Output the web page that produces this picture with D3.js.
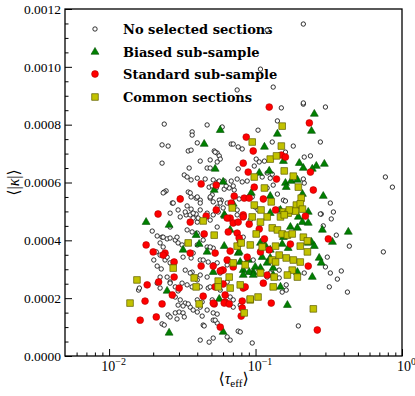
<!DOCTYPE html>
<html>
<head>
<meta charset="utf-8">
<script src="https://cdn.jsdelivr.net/npm/d3@7"></script>
<style>
  body { margin: 0; background: #fff; }
</style>
</head>
<body>
<script>
// [tau_eff, kappa] pairs
const noneData = [
  [0.0238,8.02e-4],[0.0467,7.99e-4],[0.0592,7.92e-4],[0.0369,7.75e-4],[0.0369,7.64e-4],[0.0230,7.30e-4],[0.0253,7.26e-4],[0.0400,7.37e-4],
  [0.0682,7.33e-4],[0.0704,7.33e-4],[0.0347,7.09e-4],[0.0363,7.12e-4],[0.0522,7.09e-4],[0.0547,7.02e-4],[0.0565,6.92e-4],[0.0230,6.67e-4],
  [0.0419,6.74e-4],[0.0490,6.78e-4],[0.0467,6.50e-4],[0.0490,6.50e-4],[0.0352,6.50e-4],[0.0574,6.81e-4],[0.0326,6.26e-4],[0.0341,6.19e-4],
  [0.0363,6.09e-4],[0.0400,6.15e-4],[0.0453,6.12e-4],[0.0514,6.09e-4],[0.0556,6.02e-4],[0.0682,6.05e-4],[0.0749,6.12e-4],[0.0245,5.71e-4],
  [0.0238,5.67e-4],[0.0347,5.67e-4],[0.0363,5.50e-4],[0.0393,5.46e-4],[0.0419,5.39e-4],[0.0482,5.84e-4],[0.0506,5.88e-4],[0.0539,5.81e-4],
  [0.0611,5.77e-4],[0.0661,5.81e-4],[0.0715,5.74e-4],[0.0270,5.29e-4],[0.0296,5.05e-4],[0.0341,5.19e-4],[0.0363,5.08e-4],[0.0393,4.91e-4],
  [0.0419,5.05e-4],[0.0490,5.46e-4],[0.0514,5.33e-4],[0.0547,5.15e-4],[0.0583,5.39e-4],[0.0640,5.29e-4],[0.0467,4.94e-4],[0.0514,4.88e-4],
  [0.0556,4.98e-4],[0.0261,4.94e-4],[0.0336,4.88e-4],
  [0.150,8.58e-4],[0.212,8.71e-4],[0.300,8.61e-4],[0.141,8.13e-4],[0.104,7.81e-4],[0.277,7.40e-4],[0.130,7.40e-4],[0.0761,7.23e-4],
  [0.0811,7.16e-4],[0.181,7.26e-4],[0.0530,7.05e-4],[0.0547,6.71e-4],[0.101,6.81e-4],[0.106,6.71e-4],[0.115,6.74e-4],[0.215,6.88e-4],
  [0.237,6.92e-4],[0.160,7.05e-4],[0.0761,6.47e-4],[0.120,6.33e-4],[0.130,6.29e-4],[0.0980,6.57e-4],[0.111,6.19e-4],[0.126,6.15e-4],
  [0.212,6.12e-4],[0.215,5.98e-4],[0.0565,6.05e-4],[0.0611,6.05e-4],[0.0630,5.88e-4],[0.0704,5.88e-4],[0.0811,6.02e-4],[0.0877,6.05e-4],
  [0.132,5.91e-4],[0.120,5.81e-4],[0.770,6.19e-4],[0.860,5.84e-4],[0.324,5.29e-4],[0.340,4.98e-4],[0.281,4.91e-4],[0.0506,5.57e-4],
  [0.0565,5.39e-4],[0.155,5.39e-4],[0.160,5.36e-4],[0.0773,5.43e-4],[0.0850,5.46e-4],[0.0949,5.50e-4],[0.141,5.60e-4],[0.0995,5.15e-4],
  [0.104,5.05e-4],[0.145,5.08e-4],[0.0749,4.88e-4],[0.0811,4.81e-4],
  [0.0197,4.32e-4],[0.0213,4.15e-4],[0.0230,4.11e-4],[0.0249,4.05e-4],[0.0261,4.08e-4],[0.0283,4.01e-4],[0.0296,3.91e-4],[0.0315,3.84e-4],
  [0.0223,3.91e-4],[0.0234,3.77e-4],[0.0210,3.60e-4],[0.0223,3.49e-4],[0.0241,3.32e-4],[0.0261,3.22e-4],[0.0202,3.32e-4],[0.0213,3.11e-4],
  [0.0227,3.01e-4],[0.0249,2.73e-4],[0.0261,2.56e-4],[0.0283,2.39e-4],[0.0296,2.25e-4],[0.0213,2.52e-4],[0.0223,2.35e-4],[0.0159,2.28e-4],
  [0.0161,2.35e-4],[0.0331,4.98e-4],[0.0358,4.88e-4],[0.0375,4.77e-4],[0.0400,4.63e-4],[0.0341,4.36e-4],[0.0369,4.29e-4],[0.0400,4.25e-4],
  [0.0439,4.18e-4],[0.0347,3.91e-4],[0.0400,3.84e-4],[0.0467,3.77e-4],[0.0514,3.73e-4],[0.0320,3.42e-4],[0.0363,3.39e-4],[0.0419,3.32e-4],
  [0.0475,3.25e-4],[0.0547,3.22e-4],[0.0640,3.15e-4],[0.0331,2.97e-4],[0.0369,2.90e-4],[0.0419,2.80e-4],[0.0467,2.73e-4],[0.0315,2.52e-4],
  [0.0341,2.46e-4],[0.0369,2.39e-4],[0.0419,2.39e-4],[0.0475,2.35e-4],[0.0574,2.28e-4],[0.0283,2.04e-4],[0.0306,1.94e-4],[0.0331,1.83e-4],
  [0.0358,1.69e-4],[0.0375,1.59e-4],[0.0253,1.42e-4],[0.0261,1.35e-4],[0.0439,1.07e-4],[0.0514,1.24e-4],[0.0547,1.14e-4],[0.0419,1.69e-4],
  [0.0467,1.59e-4],[0.0514,1.49e-4],[0.0640,1.83e-4],[0.0704,1.69e-4],[0.0400,1.94e-4],[0.0432,1.87e-4],[0.0506,1.94e-4],
  [0.0296,1.76e-4],[0.0320,1.73e-4],[0.0347,1.80e-4],[0.0283,1.49e-4],[0.0301,1.52e-4],[0.0320,1.49e-4],[0.0291,1.28e-4],[0.0326,1.35e-4],
  [0.0230,1.11e-4],[0.0238,1.07e-4],[0.0400,1.52e-4],[0.0432,1.38e-4],[0.0547,1.45e-4],[0.0530,1.24e-4],[0.0446,1.04e-4],[0.0419,0.55e-4],
  [0.0482,0.48e-4],[0.0514,0.62e-4],[0.0640,0.66e-4],[0.0671,0.55e-4],[0.0761,0.86e-4],[0.0949,0.45e-4],
  [0.196,1.04e-4],[0.0786,0.83e-4],[0.212,11.48e-4],[0.120,11.27e-4],[0.108,9.92e-4],[0.132,9.30e-4],[0.0749,9.20e-4],[0.212,8.75e-4],
  [0.277,4.91e-4],[0.329,4.74e-4],[0.290,4.50e-4],[0.356,4.18e-4],[0.437,3.80e-4],[0.746,3.60e-4],[0.309,3.42e-4],[0.300,3.08e-4],
  [0.324,2.87e-4],[0.385,2.94e-4],[0.362,2.66e-4],[0.319,2.39e-4],[0.424,2.21e-4],[0.145,2.97e-4],[0.145,2.70e-4],[0.162,2.28e-4],
  [0.152,2.21e-4],[0.215,2.87e-4],[0.0671,2.04e-4],[0.0704,1.94e-4],[0.0786,1.76e-4],[0.126,2.87e-4],[0.120,2.73e-4],[0.162,2.46e-4],
  [0.0234,5.64e-4],[0.0274,5.29e-4],[0.0306,5.46e-4],[0.0358,5.64e-4],[0.0400,5.50e-4],[0.0419,5.29e-4],[0.0490,5.50e-4],[0.0574,5.29e-4],
  [0.0601,5.12e-4],[0.0375,4.94e-4],[0.0406,4.77e-4],[0.0306,4.81e-4],[0.0261,4.46e-4],[0.0234,4.11e-4],[0.0291,4.11e-4],[0.0490,4.70e-4],
  [0.0547,4.46e-4],[0.0439,4.01e-4],[0.0490,3.77e-4],[0.0341,3.91e-4],[0.0375,3.56e-4],[0.0249,3.42e-4],[0.0274,3.22e-4],[0.0439,3.32e-4],
  [0.0514,3.15e-4],[0.0574,2.87e-4],[0.0640,2.56e-4],[0.0358,2.87e-4],[0.0400,2.63e-4],[0.0223,2.73e-4],[0.0261,2.52e-4],[0.0490,2.39e-4],
  [0.0824,4.11e-4],[0.0920,4.70e-4],[0.0749,5.05e-4],[0.0964,3.32e-4]
];

const biasedData = [
  [0.0574,7.81e-4],[0.0446,7.33e-4],[0.0530,6.47e-4],[0.0601,6.02e-4],[0.0522,5.74e-4],[0.0704,5.26e-4],[0.0611,4.88e-4],[0.252,8.37e-4],
  [0.241,7.78e-4],[0.141,7.68e-4],[0.115,7.23e-4],[0.155,6.74e-4],[0.199,6.67e-4],[0.212,6.50e-4],[0.260,6.57e-4],[0.295,6.64e-4],
  [0.244,6.47e-4],[0.106,6.33e-4],[0.124,6.40e-4],[0.160,5.98e-4],[0.175,6.05e-4],[0.193,6.09e-4],[0.162,5.84e-4],[0.209,5.60e-4],
  [0.290,5.53e-4],[0.0935,5.64e-4],[0.126,5.53e-4],[0.148,5.05e-4],[0.126,4.94e-4],[0.229,4.98e-4],[0.196,4.81e-4],[0.0179,4.63e-4],
  [0.0257,4.53e-4],[0.0412,3.87e-4],[0.0320,3.67e-4],[0.0467,3.60e-4],[0.0611,3.80e-4],[0.0671,4.36e-4],[0.0249,2.25e-4],[0.0565,1.97e-4],
  [0.0257,0.80e-4],[0.0601,0.83e-4],[0.286,4.36e-4],[0.430,4.29e-4],[0.335,3.94e-4],[0.241,3.94e-4],[0.252,3.80e-4],[0.229,3.91e-4],
  [0.209,4.63e-4],[0.229,4.60e-4],[0.173,4.46e-4],[0.193,4.43e-4],[0.152,3.87e-4],[0.167,3.73e-4],[0.155,4.11e-4],[0.272,3.39e-4],
  [0.281,3.22e-4],[0.193,2.90e-4],[0.244,2.73e-4],[0.148,2.39e-4],[0.165,1.76e-4],[0.111,3.42e-4],[0.108,3.04e-4],[0.0964,2.90e-4],
  [0.0824,2.97e-4],[0.120,3.22e-4],[0.132,2.80e-4],[0.0891,3.32e-4],[0.0761,3.56e-4],[0.0620,4.84e-4],[0.0393,4.18e-4],[0.0773,3.60e-4],
  [0.108,3.91e-4],[0.116,3.84e-4],[0.126,3.67e-4],[0.0786,3.25e-4],[0.0905,2.90e-4],[0.0995,3.08e-4],[0.0824,2.80e-4],[0.132,3.04e-4],
  [0.126,3.39e-4],[0.0514,2.90e-4],[0.0964,2.80e-4]
];

const standardData = [
  [0.0425,5.95e-4],[0.0539,5.91e-4],[0.0306,5.43e-4],[0.0216,4.91e-4],[0.0715,5.53e-4],[0.0682,5.29e-4],[0.0539,5.05e-4],[0.0460,4.84e-4],
  [0.0671,4.77e-4],[0.124,8.61e-4],[0.233,8.06e-4],[0.0864,7.57e-4],[0.0964,7.09e-4],[0.0824,6.67e-4],[0.0891,6.36e-4],[0.150,6.95e-4],
  [0.160,6.88e-4],[0.139,6.12e-4],[0.237,6.36e-4],[0.248,5.74e-4],[0.0980,5.84e-4],[0.113,5.43e-4],[0.0837,5.46e-4],[0.0905,5.46e-4],
  [0.137,5.05e-4],[0.0824,4.88e-4],[0.219,4.84e-4],[0.0179,3.84e-4],[0.0200,3.60e-4],[0.0241,3.56e-4],[0.0234,3.49e-4],[0.0278,3.25e-4],
  [0.0278,2.73e-4],[0.0358,3.56e-4],[0.0446,4.22e-4],[0.0530,3.56e-4],[0.0425,3.11e-4],[0.0514,3.11e-4],[0.0592,2.97e-4],[0.0182,2.46e-4],
  [0.0218,2.56e-4],[0.0301,2.35e-4],[0.0270,2.11e-4],[0.0176,1.90e-4],[0.0230,1.80e-4],[0.0439,2.07e-4],[0.0522,1.80e-4],[0.0210,1.35e-4],
  [0.0163,1.24e-4],[0.0574,1.00e-4],[0.0358,4.63e-4],[0.0651,4.29e-4],[0.0749,4.25e-4],[0.0640,4.77e-4],[0.0704,4.60e-4],[0.0601,2.97e-4],
  [0.0620,2.11e-4],[0.0620,1.87e-4],[0.0811,1.66e-4],[0.0798,1.38e-4],[0.0611,1.83e-4],[0.0661,1.80e-4],[0.0811,1.90e-4],[0.264,0.90e-4],
  [0.128,1.83e-4],[0.314,4.05e-4],[0.229,3.11e-4],[0.173,3.87e-4],[0.0824,2.35e-4],[0.0850,2.39e-4],[0.113,2.52e-4],[0.120,2.80e-4],
  [0.108,3.60e-4],[0.124,3.67e-4],[0.0877,3.42e-4],[0.0671,3.63e-4],[0.0640,3.32e-4],[0.0704,3.08e-4],[0.0574,2.94e-4],[0.0530,2.39e-4],
  [0.0601,2.49e-4],[0.0514,1.83e-4],[0.0824,4.81e-4],[0.0761,4.63e-4],[0.0905,4.56e-4],[0.106,4.39e-4],[0.115,4.05e-4],[0.0786,3.91e-4],
  [0.0773,4.08e-4]
];

const commonData = [
  [0.152,7.95e-4],[0.0949,7.40e-4],[0.150,7.26e-4],[0.126,6.81e-4],[0.139,6.92e-4],[0.157,6.40e-4],[0.181,6.22e-4],[0.0980,6.19e-4],
  [0.196,5.84e-4],[0.115,5.81e-4],[0.128,5.33e-4],[0.205,5.46e-4],[0.190,5.22e-4],[0.202,5.26e-4],[0.209,5.08e-4],[0.187,5.01e-4],
  [0.0980,5.22e-4],[0.109,5.05e-4],[0.0693,5.12e-4],[0.155,4.98e-4],[0.167,4.94e-4],[0.170,5.05e-4],[0.0949,4.81e-4],[0.120,4.81e-4],
  [0.148,4.81e-4],[0.0439,4.67e-4],[0.0522,4.18e-4],[0.0347,3.91e-4],[0.0274,3.04e-4],[0.0155,2.63e-4],[0.0139,1.83e-4],[0.0381,2.70e-4],
  [0.0393,2.39e-4],[0.0556,2.59e-4],[0.0556,2.39e-4],[0.0661,2.73e-4],[0.0671,2.35e-4],[0.0412,1.80e-4],[0.0704,3.22e-4],[0.0749,3.80e-4],
  [0.0837,1.49e-4],[0.0920,1.94e-4],[0.248,1.63e-4],[0.108,4.63e-4],[0.157,4.88e-4],[0.130,4.43e-4],[0.141,4.36e-4],[0.152,4.22e-4],
  [0.165,4.18e-4],[0.178,4.22e-4],[0.212,4.11e-4],[0.226,3.98e-4],[0.202,3.80e-4],[0.226,3.60e-4],[0.137,3.80e-4],[0.0798,3.91e-4],
  [0.0920,3.84e-4],[0.101,4.22e-4],[0.0850,3.15e-4],[0.130,3.32e-4],[0.145,3.49e-4],[0.162,3.39e-4],[0.181,3.32e-4],[0.202,3.25e-4],
  [0.137,3.25e-4],[0.178,2.97e-4],[0.165,2.80e-4],[0.193,2.73e-4],[0.108,2.87e-4],[0.134,2.73e-4],[0.0786,2.46e-4],[0.132,2.39e-4],
  [0.0920,1.97e-4],[0.104,2.04e-4],[0.111,3.77e-4]
];

const legendLabels = ["No selected sections", "Biased sub-sample", "Standard sub-sample", "Common sections"];
const yTicks = [0, 0.0002, 0.0004, 0.0006, 0.0008, 0.0010, 0.0012];
const xTicks = [0.01, 0.1, 1];
const xTickExp = ["\u22122", "\u22121", "0"];

const serif = "'Liberation Serif', 'DejaVu Serif', serif";
const legendFont = "'DejaVu Serif', serif";
const width = 415, height = 396;
const mLeft = 65, mRight = 402, mTop = 9, mBottom = 356;

const svg = d3.select("body").append("svg")
  .attr("width", width)
  .attr("height", height);

const x = d3.scaleLog().domain([0.005, 1]).range([mLeft, mRight]);
const y = d3.scaleLinear().domain([0, 0.0012]).range([mBottom, mTop]);

// minor ticks
const xMinor = [];
[0.001, 0.01, 0.1].forEach(b => { for (let m = 2; m <= 9; m++) { const v = b * m; if (v > 0.005 && v < 1) xMinor.push(v); } });
const yMinor = d3.range(0, 0.00121, 0.00005).filter(v => !yTicks.some(t => Math.abs(t - v) < 1e-9));

svg.append("g")
  .attr("transform", `translate(0,${mBottom})`)
  .call(d3.axisBottom(x).tickValues(xMinor).tickSize(-3.5).tickSizeOuter(0).tickFormat(""))
  .call(g => g.select(".domain").remove());

svg.append("g")
  .attr("transform", `translate(${mLeft},0)`)
  .call(d3.axisLeft(y).tickValues(yMinor).tickSize(-3.5).tickSizeOuter(0).tickFormat(""))
  .call(g => g.select(".domain").remove());

// major ticks + labels
const xAxis = svg.append("g")
  .attr("transform", `translate(0,${mBottom})`)
  .call(d3.axisBottom(x).tickValues(xTicks).tickSize(-7).tickSizeOuter(0).tickPadding(5))
  .call(g => g.select(".domain").remove());

xAxis.selectAll(".tick text")
  .style("font-family", serif)
  .style("font-size", "14px")
  .attr("fill", "#000")
  .each(function(d, i) {
    const t = d3.select(this).text(null);
    t.append("tspan").text("10");
    t.append("tspan").attr("dy", -6).style("font-size", "10px").text(xTickExp[i]);
  })
  .attr("dx", 4);

svg.append("g")
  .attr("transform", `translate(${mLeft},0)`)
  .call(d3.axisLeft(y).tickValues(yTicks).tickSize(-7).tickSizeOuter(0).tickPadding(4).tickFormat(d3.format(".4f")))
  .call(g => g.select(".domain").remove())
  .call(g => g.selectAll(".tick text")
    .style("font-family", serif)
    .style("font-size", "13.5px")
    .attr("fill", "#000"));

svg.selectAll(".tick line").attr("stroke", "#000").attr("stroke-width", 1);

// frame
svg.append("rect")
  .attr("x", mLeft).attr("y", mTop)
  .attr("width", mRight - mLeft).attr("height", mBottom - mTop)
  .attr("fill", "none").attr("stroke", "#000").attr("stroke-width", 1.3);

// axis titles
svg.append("text")
  .attr("transform", `translate(19,${(mTop + mBottom) / 2}) rotate(-90)`)
  .attr("text-anchor", "middle")
  .style("font-family", serif)
  .style("font-size", "16px")
  .html('\u27E8|<tspan font-style="italic">\u03BA</tspan>|\u27E9');

svg.append("text")
  .attr("x", (mLeft + mRight) / 2)
  .attr("y", 384)
  .attr("text-anchor", "middle")
  .style("font-family", serif)
  .style("font-size", "16px")
  .html('\u27E8<tspan font-style="italic">\u03C4</tspan><tspan style="font-size:11px" dy="3">eff</tspan><tspan dy="-3">\u27E9</tspan>');

// legend (drawn under the points)
const tri = d3.symbol().type(d3.symbolTriangle).size(27);
const sq = d3.symbol().type(d3.symbolSquare).size(44);

const legend = svg.append("g");
const legendY = [29, 52, 74, 97];
legendLabels.forEach((lab, i) => {
  legend.append("text")
    .attr("x", 123).attr("y", legendY[i])
    .attr("dy", "0.35em")
    .style("font-family", legendFont)
    .style("font-size", "13px")
    .style("font-weight", "bold")
    .text(lab);
});
legend.append("circle").attr("cx", 95).attr("cy", legendY[0]).attr("r", 2.2)
  .attr("fill", "#fff").attr("stroke", "#000").attr("stroke-width", 0.8);
legend.append("path").attr("d", tri).attr("transform", `translate(95,${legendY[1]})`)
  .attr("fill", "#008000").attr("stroke", "#004d00").attr("stroke-width", 0.6);
legend.append("circle").attr("cx", 95).attr("cy", legendY[2]).attr("r", 3.4)
  .attr("fill", "#ff0000").attr("stroke", "#b00000").attr("stroke-width", 0.6);
legend.append("path").attr("d", sq).attr("transform", `translate(95,${legendY[3]})`)
  .attr("fill", "#c2c200").attr("stroke", "#5e5e00").attr("stroke-width", 0.7);

// points
const pts = svg.append("g");

pts.append("g").selectAll("circle").data(noneData).join("circle")
  .attr("cx", d => x(d[0])).attr("cy", d => y(d[1])).attr("r", 2.2)
  .attr("fill", "#fff").attr("stroke", "#000").attr("stroke-width", 0.8);

pts.append("g").selectAll("path").data(biasedData).join("path")
  .attr("d", tri)
  .attr("transform", d => `translate(${x(d[0])},${y(d[1])})`)
  .attr("fill", "#008000").attr("stroke", "#004d00").attr("stroke-width", 0.6);

pts.append("g").selectAll("circle").data(standardData).join("circle")
  .attr("cx", d => x(d[0])).attr("cy", d => y(d[1])).attr("r", 3.4)
  .attr("fill", "#ff0000").attr("stroke", "#b00000").attr("stroke-width", 0.6);

pts.append("g").selectAll("path").data(commonData).join("path")
  .attr("d", sq)
  .attr("transform", d => `translate(${x(d[0])},${y(d[1])})`)
  .attr("fill", "#c2c200").attr("stroke", "#5e5e00").attr("stroke-width", 0.7);
</script>
</body>
</html>
